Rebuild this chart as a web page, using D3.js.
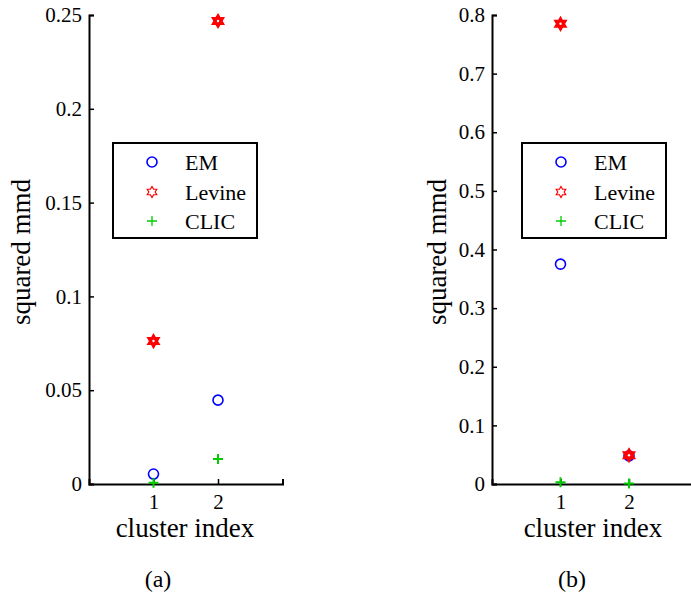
<!DOCTYPE html>
<html>
<head>
<script type="text/javascript" src="https://cdn.jsdelivr.net/npm/d3@7/dist/d3.min.js"></script>
<style>
  body { margin: 0; background: white; }
  text { font-family: "Liberation Serif", "Times New Roman", serif; fill: black; }
</style>
</head>
<body>
<script>

// data
var clusters = [1, 2];

var emA     = [0.0053, 0.0447],
    levineA = [0.0762, 0.2468],
    clicA   = [0.0007, 0.0133];

var emB     = [0.375, 0.048],
    levineB = [0.785, 0.049],
    clicB   = [0.003, 0.001];

var yTicksA = [0, 0.05, 0.1, 0.15, 0.2, 0.25],
    yTicksB = [0, 0.1, 0.2, 0.3, 0.4, 0.5, 0.6, 0.7, 0.8];

var seriesNames = ["EM", "Levine", "CLIC"];
var colors = ["#0000ff", "#ff0000", "#00cc00"];

var width = 691, height = 596;

var svg = d3.select("body").append("svg")
            .attr("width", width)
            .attr("height", height)
            .attr("font-family", "'Liberation Serif', serif");

// auxiliary: hexagram marker path
hexagram = function(R) {
  var r = R / Math.sqrt(3), pts = [];
  for (var k = 0; k < 12; ++k) {
    var a = -Math.PI / 2 + k * Math.PI / 6;
    var rr = (k % 2 == 0) ? R : r;
    pts.push([rr * Math.cos(a), rr * Math.sin(a)]);
  }
  return "M" + pts.map(function(p) { return p[0].toFixed(2) + "," + p[1].toFixed(2); }).join("L") + "Z";
}

drawMarker = function(g, kind, x, y, big) {
  if (kind == 0) {
    g.append("circle").attr("cx", x).attr("cy", y).attr("r", 5)
     .attr("fill", "none").attr("stroke", colors[0]).attr("stroke-width", 1.6);
  } else if (kind == 1) {
    g.append("path").attr("transform", "translate(" + x + "," + y + ")")
     .attr("d", hexagram(big ? 6.5 : 5.5))
     .attr("fill", big ? colors[1] : "none")
     .attr("stroke", colors[1]).attr("stroke-width", big ? 1.6 : 1.2);
    if (big) g.append("circle").attr("cx", x).attr("cy", y).attr("r", 1.2).attr("fill", "white");
  } else {
    var s = 5;
    g.append("path").attr("d", "M" + (x - s) + "," + y + "H" + (x + s) + "M" + x + "," + (y - s) + "V" + (y + s))
     .attr("stroke", colors[2]).attr("stroke-width", big ? 2 : 1.3).attr("fill", "none");
  }
}

function panel(opt) {
  var g = svg.append("g");

  var x = d3.scaleLinear().domain([0, 3]).range(opt.xRange);
  var y = d3.scaleLinear().domain(opt.yDomain).range([484, 15]);

  var yAxis = d3.axisLeft(y).tickValues(opt.yTicks).tickSize(-5).tickPadding(7)
                .tickFormat(function(d) { return String(+d.toFixed(3)); });
  var xAxis = d3.axisBottom(x).tickValues(clusters).tickSize(-5).tickPadding(10)
                .tickFormat(d3.format("d"));

  var gy = g.append("g").attr("transform", "translate(" + opt.xRange[0] + ",0)").call(yAxis);
  var gx = g.append("g").attr("transform", "translate(0,484)").call(xAxis);

  [gx, gy].forEach(function(a) {
    a.attr("font-family", "'Liberation Serif', serif");
    a.selectAll("path.domain").attr("stroke", "black").attr("stroke-width", 2);
    a.selectAll(".tick line").attr("stroke", "black").attr("stroke-width", 1.5);
    a.selectAll("text").style("font-size", "21px").attr("fill", "black");
  });

  // data markers
  var series = [opt.em, opt.levine, opt.clic];
  series.forEach(function(vals, k) {
    vals.forEach(function(v, i) {
      drawMarker(g, k, x(clusters[i]), y(v), true);
    });
  });

  // axis labels
  g.append("text").attr("transform", "translate(" + opt.yLabelX + ",252) rotate(-90)")
   .attr("text-anchor", "middle").style("font-size", "27px").text("squared mmd");
  g.append("text").attr("x", opt.xLabelX).attr("y", 537)
   .attr("text-anchor", "middle").style("font-size", "27px").text("cluster index");
  g.append("text").attr("x", opt.capX).attr("y", 587)
   .attr("text-anchor", "middle").style("font-size", "24px").text(opt.caption);

  // legend
  var lg = g.append("g");
  lg.append("rect").attr("x", opt.legX).attr("y", 143).attr("width", 144).attr("height", 95)
    .attr("fill", "white").attr("stroke", "black").attr("stroke-width", 2);
  var rowY = [162, 192, 221];
  seriesNames.forEach(function(name, k) {
    drawMarker(lg, k, opt.legX + 39, rowY[k], false);
    lg.append("text").attr("x", opt.legX + 72).attr("y", rowY[k] + 8)
      .style("font-size", "22px").text(name);
  });
}

panel({ xRange: [89, 282.5], yDomain: [0, 0.25], yTicks: yTicksA,
        em: emA, levine: levineA, clic: clicA,
        yLabelX: 30, xLabelX: 185, capX: 158, caption: "(a)", legX: 113 });

panel({ xRange: [492, 697.5], yDomain: [0, 0.8], yTicks: yTicksB,
        em: emB, levine: levineB, clic: clicB,
        yLabelX: 446, xLabelX: 593, capX: 572, caption: "(b)", legX: 522 });

</script>
</body>
</html>
